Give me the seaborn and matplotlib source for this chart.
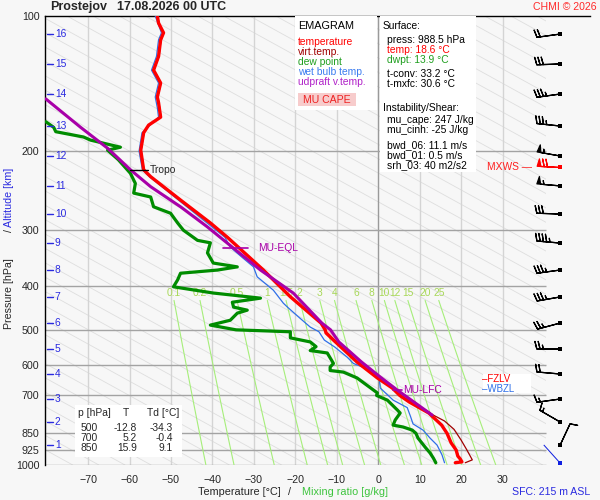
import numpy as np
import matplotlib
matplotlib.use('Agg')
import matplotlib.pyplot as plt
from matplotlib.patches import Rectangle
import matplotlib.ticker as mticker
import seaborn as sns

sns.set_style('white')
plt.rcParams['font.family'] = ['Liberation Sans', 'DejaVu Sans']

# ---- sounding (p in hPa, T in degC) ----
temp_p = [100, 103.7, 109, 113, 123, 132, 141, 151.5, 156, 168, 175, 182, 199, 220, 228, 257, 289,
          311, 368, 422, 483, 500, 508, 527, 590, 640, 674, 700, 724, 766, 815, 850, 893, 926, 955,
          970, 984, 988.5]
temp_t = [-53.3, -53.0, -51.8, -52.5, -53.0, -54.2, -52.5, -53.3, -53.0, -52.5, -55.4, -56.6, -57.3,
          -56.6, -54.9, -47.7, -40.5, -36.4, -27.7, -21.2, -13.8, -12.8, -12.6, -10.8, -5.1, -0.2,
          3.4, 5.2, 7.5, 12.2, 15.3, 16.6, 17.6, 18.8, 19.2, 19.8, 20.2, 18.6]

virt_p = [100, 103.7, 109, 113, 123, 132, 141, 151.5, 156, 168, 175, 182, 199, 220, 228, 257, 289,
          311, 368, 422, 483, 500, 508, 527, 590, 640, 674, 700, 724, 776, 798, 833, 880, 926, 974,
          988.5]
virt_t = [-53.2, -52.9, -51.7, -52.4, -52.9, -54.1, -52.4, -53.2, -52.9, -52.4, -55.3, -56.5, -57.2,
          -56.5, -54.8, -47.6, -40.4, -36.3, -27.6, -21.1, -13.7, -12.7, -12.4, -10.6, -4.9, 0.1,
          3.7, 5.5, 8.0, 13.5, 16.0, 18.3, 20.0, 21.4, 22.7, 21.0]

dew_p = [172, 177, 181, 186, 189, 196, 199, 209, 224, 236, 248, 253, 266, 275, 289, 300, 316, 320,
         337, 355, 362, 368, 374, 387, 401, 414, 425, 434, 445, 452, 459, 476, 488, 500, 505, 521,
         532, 545, 556, 563, 594, 605, 616, 621, 640, 691, 700, 717, 754, 766, 794, 815, 823, 836,
         850, 871, 912, 940, 965, 988.5]
dew_t = [-80.2, -78.3, -77.8, -71.1, -69.4, -62.2, -65.3, -62.7, -59.8, -58.6, -59.0, -54.9, -54.2,
         -50.1, -48.4, -47.0, -43.6, -40.5, -41.2, -39.8, -34.0, -38.8, -47.7, -48.4, -49.4, -39.8,
         -28.4, -35.2, -34.9, -31.6, -34.0, -35.7, -40.5, -34.3, -21.2, -21.2, -16.4, -15.0, -16.4,
         -12.3, -10.8, -11.6, -11.6, -8.4, -5.1, -0.2, -0.4, 2.2, 4.6, 5.3, 4.1, 3.6, 6.0, 8.2, 9.1,
         9.6, 11.3, 12.5, 13.3, 13.9]

wetb_p = [100, 109, 113, 123, 132, 141, 151.5, 160, 168, 182, 200, 220, 228, 257, 311, 327, 345, 362,
          381, 408, 436, 445, 470, 493, 505, 527, 546, 575, 594, 605, 636, 674, 717, 745, 780, 810,
          836, 871, 903, 950, 988.5]
wetb_t = [-53.8, -52.3, -53.0, -53.5, -54.7, -53.0, -53.8, -53.3, -53.0, -57.0, -57.7, -56.9, -55.2,
          -48.2, -37.0, -35.7, -32.8, -30.1, -29.2, -25.3, -22.9, -21.9, -19.0, -16.4, -14.3, -13.0,
          -10.5, -7.5, -6.0, -3.8, 0.2, 0.5, 3.6, 7.0, 7.8, 8.4, 10.8, 12.5, 14.2, 15.4, 16.0]

parcel_p = [153, 177, 197, 220, 240, 266, 295, 329, 368, 414, 483, 500, 532, 590, 637, 681, 774]
parcel_t = [-80.2, -71.8, -65.3, -59.8, -54.9, -47.7, -41.2, -34.9, -28.4, -20.5, -13.6, -11.5,
            -9.5, -4.0, 0.5, 4.6, 13.0]

# levels
p_levels = [100, 200, 300, 400, 500, 600, 700, 850, 925, 1000]
t_ticks = [-70, -60, -50, -40, -30, -20, -10, 0, 10, 20, 30]
alt_km = [1, 2, 3, 4, 5, 6, 7, 8, 9, 10, 11, 12, 13, 14, 15, 16]
alt_p = [902.7, 802.2, 712.9, 627.1, 551.4, 482.9, 422.4, 367.9, 320.4, 276.1, 239.0, 205.0,
         175.8, 149.2, 127.9, 109.7]
mix_ratios = [0.1, 0.2, 0.5, 1, 1.5, 2, 3, 4, 6, 8, 10, 12, 15, 20, 25]

# winds at the altitude ticks (kt, deg)
wind_spd = [10, 15, 15, 20, 25, 25, 35, 35, 45, 30, 55, 55, 35, 35, 30, 20]
wind_dir = [25, 300, 262, 275, 270, 255, 260, 262, 275, 272, 275, 280, 276, 262, 268, 262]
mxws_p, mxws_spd, mxws_dir = 216.9, 70, 273
sfc_p, sfc_dir = 988.5, 318

tropo_p = 220
eql_p = 328.7
lfc_p = 681

T_LEFT, T_RIGHT, T_EDGE = -80.4, 40.5, 51.1
T_WIND = 43.9

RED = '#ff0000'
VIRT = '#a00000'
DEW = '#008c00'
WETB = '#2f6fe8'
PURP = '#a800a8'
ALT = '#2a2ae0'
MIXC = '#a6ee7a'


def fpos(x, y):
    return x / 600, 1 - y / 500


fig = plt.figure(figsize=(6, 5), dpi=100)
fig.patch.set_facecolor('#f7f7f7')
ax = fig.add_axes([45 / 600, 35 / 500, 545 / 600, 449 / 500])
ax.set_facecolor('#f7f7f7')
ax.set_yscale('log')
ax.set_xlim(T_LEFT, T_EDGE)
ax.set_ylim(1000, 100)

# slanted background guide lines
clip = Rectangle((T_LEFT, 100), T_RIGHT - T_LEFT, 900, transform=ax.transData)
pp = np.geomspace(100, 1000, 60)
for c in np.arange(-80, 260, 6.3):
    ln, = ax.plot(c + 196.7 * np.log10(pp / 1000), pp, color='#dedede', lw=0.6, zorder=1)
    ln.set_clip_path(clip)

# isotherms and isobars
for t in t_ticks:
    ax.axvline(t, color='#9a9a9a' if t == 0 else '#d4d4d4', lw=1, zorder=1.5)
ax.hlines(p_levels[1:], T_LEFT, T_RIGHT, color='#a3a3a3', lw=1, zorder=2)

# mixing ratio lines
pm = np.geomspace(430, 1000, 30)
for w in mix_ratios:
    e = w * pm / (622 + w)
    lnr = np.log(e / 6.112)
    tm = 243.5 * lnr / (17.67 - lnr)
    ax.plot(tm, pm, color=MIXC, lw=0.8, zorder=2)
    ax.text(tm[0], 413, f'{w:g}', color='#a8d858', fontsize=7.4, ha='center', va='center', zorder=2)

# CAPE area
pg = np.geomspace(483, lfc_p, 80)
par_i = np.interp(np.log(pg), np.log(parcel_p), parcel_t)
env_i = np.interp(np.log(pg), np.log(virt_p), virt_t)
ax.fill_betweenx(pg, env_i, par_i, where=par_i > env_i, color='#f6c4c4', lw=0, zorder=3)

# profiles
sns.lineplot(x=wetb_t, y=wetb_p, sort=False, estimator=None, color=WETB, lw=0.9, ax=ax, zorder=4)
sns.lineplot(x=dew_t, y=dew_p, sort=False, estimator=None, color=DEW, lw=2.3, ax=ax, zorder=5)
sns.lineplot(x=virt_t, y=virt_p, sort=False, estimator=None, color=VIRT, lw=0.9, ax=ax, zorder=5)
sns.lineplot(x=temp_t, y=temp_p, sort=False, estimator=None, color=RED, lw=2.4, ax=ax, zorder=6)
sns.lineplot(x=parcel_t, y=parcel_p, sort=False, estimator=None, color=PURP, lw=2.2, ax=ax, zorder=7)

# level markers
ax.plot([-59.8, -55.6], [tropo_p, tropo_p], color='k', lw=1, zorder=8)
ax.text(-55.0, tropo_p, 'Tropo', fontsize=7.4, va='center', ha='left', zorder=8)
ax.plot([-37.4, -31.3], [eql_p, eql_p], color=PURP, lw=1.2, zorder=8)
ax.text(-29.0, eql_p, 'MU-EQL', color=PURP, fontsize=7.4, va='center', ha='left', zorder=8)
ax.plot([3.6, 5.8], [lfc_p, lfc_p], color=PURP, lw=1.2, zorder=8)
ax.text(6.0, lfc_p, 'MU-LFC', color=PURP, fontsize=7.4, va='center', ha='left', zorder=8)

# altitude ticks
ytr = ax.get_yaxis_transform()
for km, p in zip(alt_km, alt_p):
    ax.plot([0.004, 0.015], [p, p], color=ALT, lw=1, transform=ytr, zorder=8)
    ax.text(0.018, p, str(km), color=ALT, fontsize=7.4, va='center', ha='left', transform=ytr, zorder=8)

# wind barbs
rad = np.deg2rad(wind_dir)
spd = np.array(wind_spd, dtype=float)
xb = np.full(len(alt_p), T_WIND)
bsz = dict(height=0.32, spacing=0.14, width=0.16)
ax.barbs(xb, alt_p, -spd * np.sin(rad), -spd * np.cos(rad), length=5.8, lw=0.9, color='k',
         sizes=bsz, zorder=8)
ax.scatter(xb, alt_p, marker='s', s=7, color='k', lw=0, zorder=9)
mr = np.deg2rad(mxws_dir)
ax.barbs([T_WIND], [mxws_p], [-mxws_spd * np.sin(mr)], [-mxws_spd * np.cos(mr)], length=5.8,
         lw=0.9, color=RED, sizes=bsz, zorder=8)
ax.scatter([T_WIND], [mxws_p], marker='s', s=7, color=RED, lw=0, zorder=9)
sr = np.deg2rad(sfc_dir)
ax.quiver([T_WIND], [sfc_p], [np.sin(sr)], [np.cos(sr)], color='#1020e0', units='dots', width=1,
          headwidth=0, headlength=0, headaxislength=0, scale_units='dots', scale=1 / 25,
          pivot='tail', zorder=8)
ax.scatter([T_WIND], [sfc_p], marker='s', s=7, color='#1020e0', lw=0, zorder=9)

# MXWS / FZLV / WBZL tags
fig.text(*fpos(487, 167), 'MXWS —', color='#ff2020', fontsize=7.4, va='center', ha='left')
fig.patches.append(Rectangle(fpos(483, 393), 48 / 600, 19 / 500, transform=fig.transFigure,
                             facecolor='white', edgecolor='none', zorder=1))
fig.text(*fpos(482, 379), '–FZLV', color=RED, fontsize=7.0, va='center')
fig.text(*fpos(482, 388.5), '–WBZL', color=WETB, fontsize=7.0, va='center')

# axes cosmetics
for s in ['right', 'bottom']:
    ax.spines[s].set_visible(False)
ax.spines['left'].set_color('k')
ax.spines['top'].set_color('k')
ax.spines['left'].set_linewidth(1)
ax.spines['top'].set_linewidth(1)
ax.set_yticks(p_levels)
ax.yaxis.set_major_formatter(mticker.FormatStrFormatter('%d'))
ax.yaxis.set_minor_locator(mticker.NullLocator())
ax.set_xticks(t_ticks)
ax.tick_params(axis='both', length=0, labelsize=7.7)
ax.tick_params(axis='y', pad=4)
ax.tick_params(axis='x', pad=7)
ax.set_xlabel('')
ax.set_ylabel('')

# legend box
fig.patches.append(Rectangle(fpos(295, 110), 82 / 600, 94 / 500, transform=fig.transFigure,
                             facecolor='white', edgecolor='none', zorder=1))
legend_items = [('EMAGRAM', 'k'), ('temperature', RED), ('virt.temp.', VIRT), ('dew point', '#1e9e1e'),
                ('wet bulb temp.', '#3a7cf0'), ('udpraft v.temp.', '#b020c8')]
for i, (txt, col) in enumerate(legend_items):
    yy = 26 if i == 0 else 42 + 10 * (i - 1)
    fig.text(*fpos(298, yy), txt, color=col, fontsize=7.4 if i else 7.8, va='center')
fig.patches.append(Rectangle(fpos(298, 106), 58 / 600, 13 / 500, transform=fig.transFigure,
                             facecolor='#f7cccc', edgecolor='none', zorder=1))
fig.text(*fpos(303, 100), 'MU CAPE', color='#ee2222', fontsize=7.6, va='center')

# info box
fig.patches.append(Rectangle(fpos(380, 172), 96 / 600, 156 / 500, transform=fig.transFigure,
                             facecolor='white', edgecolor='none', zorder=1))
info = [(383, 26, 'Surface:', 'k'), (387, 40, 'press: 988.5 hPa', 'k'), (387, 50, 'temp: 18.6 °C', RED),
        (387, 60, 'dwpt: 13.9 °C', '#1e9e1e'), (387, 74, 't-conv: 33.2 °C', 'k'),
        (387, 84, 't-mxfc: 30.6 °C', 'k'), (383, 108, 'Instability/Shear:', 'k'),
        (387, 120, 'mu_cape: 247 J/kg', 'k'), (387, 130, 'mu_cinh: -25 J/kg', 'k'),
        (387, 145, 'bwd_06: 11.1 m/s', 'k'), (387, 155, 'bwd_01: 0.5 m/s', 'k'),
        (387, 165, 'srh_03: 40 m2/s2', 'k')]
for x, y, txt, col in info:
    fig.text(*fpos(x, y), txt, color=col, fontsize=7.4, va='center')

# table box
fig.patches.append(Rectangle(fpos(75, 457), 107 / 600, 52 / 500, transform=fig.transFigure,
                             facecolor='white', edgecolor='none', zorder=1))
fig.text(*fpos(78, 413), 'p [hPa]', fontsize=7.4, va='center')
fig.text(*fpos(123, 413), 'T', fontsize=7.4, va='center')
fig.text(*fpos(147, 413), 'Td [°C]', fontsize=7.4, va='center')
tab_p = ['500', '700', '850']
tab_t = ['-12.8', '5.2', '15.9']
tab_td = ['-34.3', '-0.4', '9.1']
for i in range(3):
    yy = 428 + 10 * i
    fig.text(*fpos(98, yy), tab_p[i], fontsize=7.4, va='center', ha='right')
    fig.text(*fpos(137, yy), tab_t[i], fontsize=7.4, va='center', ha='right')
    fig.text(*fpos(173, yy), tab_td[i], fontsize=7.4, va='center', ha='right')

# titles and labels
fig.text(*fpos(50, 7), 'Prostejov', fontsize=9, fontweight='bold', va='center')
fig.text(*fpos(117, 7), '17.08.2026 00 UTC', fontsize=9, fontweight='bold', va='center')
fig.text(*fpos(597, 7), 'CHMI © 2026', color='#ff2a2a', fontsize=7.6, va='center', ha='right')
fig.text(*fpos(281, 492), 'Temperature [°C]', fontsize=7.8, va='center', ha='right')
fig.text(*fpos(289, 492), '/', fontsize=7.8, va='center', ha='center')
fig.text(*fpos(302, 492), 'Mixing ratio [g/kg]', color='#3ec43e', fontsize=7.8, va='center')
fig.text(*fpos(590, 492), 'SFC: 215 m ASL', color='#2a2ae0', fontsize=7.6, va='center', ha='right')
fig.text(*fpos(9, 294), 'Pressure [hPa]', fontsize=7.7, rotation=90, va='center', ha='center')
fig.text(*fpos(9, 231), '/', fontsize=7.7, rotation=90, va='center', ha='center')
fig.text(*fpos(9, 197), 'Altitude [km]', color='#2a2ae0', fontsize=7.7, rotation=90, va='center',
         ha='center')

fig.savefig('out.png', dpi=100, facecolor=fig.get_facecolor())
